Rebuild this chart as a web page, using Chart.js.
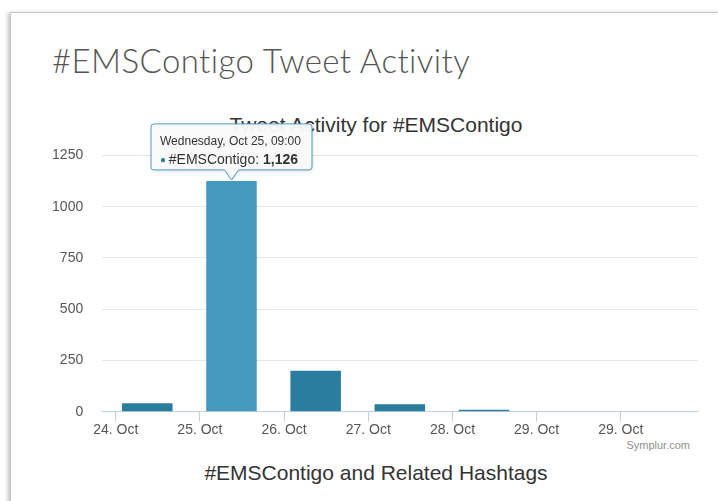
<!DOCTYPE html>
<html>
<head>
<meta charset="utf-8">
<script src="https://cdn.jsdelivr.net/npm/chart.js@4"></script>
<style>
  html, body { margin: 0; padding: 0; background: #fff; width: 718px; height: 501px; overflow: hidden; }
  #card { position: absolute; left: 10px; top: 12px; width: 720px; height: 500px; border: 1px solid #c8c8c8; background: #fff; box-shadow: -2px 1px 4px rgba(0,0,0,0.25); }
  .txt { position: absolute; white-space: nowrap; }
  #heading { left: 52px; top: 40px; font-family: Lato, "Open Sans", sans-serif; font-weight: 300; font-size: 33px; letter-spacing: 0.4px; color: #555; }
  #ctitle { left: 0; width: 752px; text-align: center; top: 113px; font-family: "Liberation Sans", Arial, sans-serif; font-size: 21px; color: #333; }
  #sub { left: 0; width: 752px; text-align: center; top: 461px; font-family: "Liberation Sans", Arial, sans-serif; font-size: 21px; color: #333; }
  #credit { right: 28px; top: 439px; font-family: "Liberation Sans", Arial, sans-serif; font-size: 11px; color: #909090; }
  #wrap { position: absolute; left: 0; top: 0; width: 718px; height: 501px; }
</style>
</head>
<body>
<div id="card"></div>
<div class="txt" id="heading">#EMSContigo Tweet Activity</div>
<div class="txt" id="ctitle">Tweet Activity for #EMSContigo</div>
<div class="txt" id="sub">#EMSContigo and Related Hashtags</div>
<div class="txt" id="credit">Symplur.com</div>
<div id="wrap"><canvas id="c" width="718" height="501"></canvas></div>
<script>
// ---- data ----
const seriesName = "#EMSContigo";
const dayLabels = ["24. Oct", "25. Oct", "26. Oct", "27. Oct", "28. Oct", "29. Oct", "29. Oct"];
const dayTickHours = [0, 24, 48, 72, 96, 120, 144];          // hours since 24 Oct 00:00
const barHours = [9, 33, 57, 81, 105, 129, 153];             // each day's bar at 09:00
const tweetCounts = [41, 1126, 200, 36, 9, 0, 0];
const yTicks = [0, 250, 500, 750, 1000, 1250];
const tooltipTitles = ["Tuesday, Oct 24, 09:00", "Wednesday, Oct 25, 09:00", "Thursday, Oct 26, 09:00",
  "Friday, Oct 27, 09:00", "Saturday, Oct 28, 09:00", "Sunday, Oct 29, 09:00", "Monday, Oct 30, 09:00"];
const highlightIndex = 1;

const barColor = "#2b7da0";
const hoverColor = "#4499bf";

const points = barHours.map((h, i) => ({ x: h, y: tweetCounts[i] }));

const tooltipPlugin = {
  id: 'fixedTooltip',
  afterDatasetsDraw(chart) {
    const el = chart.getDatasetMeta(0).data[highlightIndex];
    const ctx = chart.ctx;
    const tipX = el.x, tipY = el.y - 1;
    const title = tooltipTitles[highlightIndex];
    const labelPart = "\u25CF ";
    const namePart = seriesName + ": ";
    const valPart = tweetCounts[highlightIndex].toLocaleString('en-US');
    const fTitle = "12px 'Liberation Sans', Arial, sans-serif";
    const fBody = "14px 'Liberation Sans', Arial, sans-serif";
    const fBold = "bold 14px 'Liberation Sans', Arial, sans-serif";
    ctx.save();
    ctx.font = fTitle;
    const tw = ctx.measureText(title).width;
    ctx.font = "10px 'Liberation Sans', Arial, sans-serif";
    const dw = ctx.measureText(labelPart).width;
    ctx.font = fBody;
    const nw = ctx.measureText(namePart).width;
    ctx.font = fBold;
    const vw = ctx.measureText(valPart).width;
    const w = Math.max(tw, dw + nw + vw) + 2 * 10;
    const h = 46;
    const caret = 10;
    const bx = tipX - w / 2, by = tipY - caret - h;
    const r = 3;
    ctx.beginPath();
    ctx.moveTo(bx + r, by);
    ctx.lineTo(bx + w - r, by);
    ctx.quadraticCurveTo(bx + w, by, bx + w, by + r);
    ctx.lineTo(bx + w, by + h - r);
    ctx.quadraticCurveTo(bx + w, by + h, bx + w - r, by + h);
    ctx.lineTo(tipX + 7, by + h);
    ctx.lineTo(tipX, tipY);
    ctx.lineTo(tipX - 7, by + h);
    ctx.lineTo(bx + r, by + h);
    ctx.quadraticCurveTo(bx, by + h, bx, by + h - r);
    ctx.lineTo(bx, by + r);
    ctx.quadraticCurveTo(bx, by, bx + r, by);
    ctx.closePath();
    ctx.shadowColor = "rgba(0,0,0,0.15)";
    ctx.shadowOffsetX = 1; ctx.shadowOffsetY = 1; ctx.shadowBlur = 3;
    ctx.fillStyle = "rgba(250,250,250,0.96)";
    ctx.fill();
    ctx.shadowColor = "transparent";
    ctx.strokeStyle = "#4a9cc2";
    ctx.lineWidth = 1;
    ctx.stroke();
    ctx.textBaseline = "alphabetic";
    ctx.textAlign = "left";
    ctx.fillStyle = "#333";
    ctx.font = fTitle;
    ctx.fillText(title, bx + 9, by + 21);
    let x = bx + 9;
    const ly = by + 40;
    ctx.font = "10px 'Liberation Sans', Arial, sans-serif";
    ctx.fillStyle = barColor;
    ctx.fillText(labelPart, x, ly - 1); x += dw;
    ctx.fillStyle = "#333";
    ctx.font = fBody;
    ctx.fillText(namePart, x, ly); x += nw;
    ctx.font = fBold;
    ctx.fillText(valPart, x, ly);
    ctx.restore();
  }
};

new Chart(document.getElementById('c'), {
  type: 'bar',
  data: {
    datasets: [{
      label: seriesName,
      data: points,
      backgroundColor: tweetCounts.map((v, i) => i === highlightIndex ? hoverColor : barColor),
      borderWidth: 0,
      barPercentage: 0.6,
      categoryPercentage: 1.0
    }]
  },
  options: {
    responsive: false,
    animation: false,
    events: [],
    layout: { padding: { left: 0, top: 155.5, right: 20, bottom: 0 } },
    plugins: { legend: { display: false }, tooltip: { enabled: false }, title: { display: false } },
    scales: {
      x: {
        type: 'linear',
        offset: false,
        min: -4,
        max: 166,
        afterFit(scale) { scale.height = 501 - 411.7; },
        afterBuildTicks(scale) { scale.ticks = dayTickHours.map(v => ({ value: v })); },
        ticks: {
          autoSkip: false,
          maxRotation: 0,
          padding: 0,
          color: '#555',
          font: { family: "'Liberation Sans', Arial, sans-serif", size: 14 },
          callback: (v) => { const i = dayTickHours.indexOf(v); return i >= 0 ? dayLabels[i] : ''; }
        },
        grid: { offset: false, drawOnChartArea: false, drawTicks: true, tickLength: 10, color: '#c0d0e0', lineWidth: 1 },
        border: { display: true, color: '#c0d0e0', width: 1 }
      },
      y: {
        min: 0,
        max: 1250,
        afterFit(scale) { scale.width = 101.7; },
        afterBuildTicks(scale) { scale.ticks = yTicks.map(v => ({ value: v })); },
        ticks: {
          padding: 18.5,
          color: '#555',
          font: { family: "'Liberation Sans', Arial, sans-serif", size: 14 },
          callback: (v) => String(v)
        },
        grid: { drawTicks: false, color: '#e6e6e6', lineWidth: 1 },
        border: { display: false }
      }
    }
  },
  plugins: [tooltipPlugin]
});
</script>
</body>
</html>
